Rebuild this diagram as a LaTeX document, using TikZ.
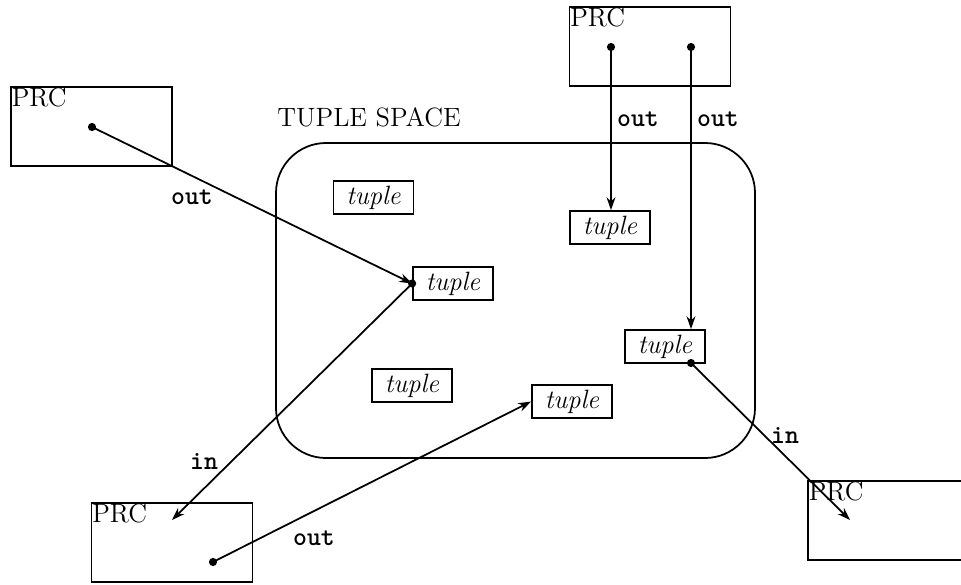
\documentclass[tikz,border=0pt]{standalone}
\usetikzlibrary{arrows.meta}
\newcommand{\bigfont}{\fontsize{11.3}{13.5}\selectfont}
\begin{document}
\begin{tikzpicture}[x=0.015cm,y=-0.015cm,
  every node/.style={font=\bigfont},
  prcbox/.style={draw,line width=0.75pt,minimum width=2.415cm,minimum height=1.185cm,inner sep=0pt},
  prclabel/.style={anchor=north west,inner sep=0.5pt},
  tuplebox/.style={draw,line width=0.75pt,minimum width=1.2cm,minimum height=0.495cm,inner sep=0pt,font=\bigfont\itshape},
  conn/.style={line width=0.75pt,-{Stealth[length=5.5pt,width=3.8pt]}},
  opl/.style={font=\bigfont\ttfamily\bfseries,inner sep=1pt},
  dotmark/.style={circle,fill,inner sep=0pt,minimum size=3.5pt}]
\useasboundingbox (0,0) rectangle (961,585);
\clip (0,0) rectangle (961,585);
\fill[white] (0,0) rectangle (961,585);
% tuple space
\node[draw,line width=0.75pt,rounded corners=0.75cm,minimum width=7.185cm,minimum height=4.725cm] (ts) at (515.5,300.5) {};
\node[anchor=south west,inner sep=0pt] (tslabel) at (277,128) {TUPLE SPACE};
% process boxes
\node[prcbox] (pL) at (91.5,126.5) {};
\node[prclabel] (pLl) at (pL.north west) {PRC};
\node[prcbox] (pT) at (650,46.5) {};
\node[prclabel] (pTl) at (pT.north west) {PRC};
\node[prcbox] (pB) at (172,542.5) {};
\node[prclabel] (pBl) at (pB.north west) {PRC};
\node[prcbox,minimum width=2.7cm] (pR) at (898,520.5) {};
\node[prclabel] (pRl) at (pR.north west) {PRC};
% tuples
\node[tuplebox] (t1) at (373.5,197.5) {tuple};
\node[tuplebox] (t2) at (453,283.5) {tuple};
\node[tuplebox] (t3) at (610,227.5) {tuple};
\node[tuplebox] (t4) at (665,346.5) {tuple};
\node[tuplebox] (t5) at (412,385.5) {tuple};
\node[tuplebox] (t6) at (572,401.5) {tuple};
% dots
\node[dotmark] (dL) at (92,127) {};
\node[dotmark] (dT1) at (611,47) {};
\node[dotmark] (dT2) at (691,47) {};
\node[dotmark] (dB) at (213,562) {};
\node[dotmark] (d2) at (t2.west) {};
\node[dotmark] (d4) at (691,363) {};
\coordinate (eB) at (172,520);
\coordinate (eR) at (850,520);
% connectors
\draw[conn] (dL.center) -- (t2.west);
\draw[conn] (dT1.center) -- (t3.north -| dT1);
\draw[conn] (dT2.center) -- (t4.north -| dT2);
\draw[conn] (d2.center) -- (eB);
\draw[conn] (dB.center) -- (t6.west);
\draw[conn] (d4.center) -- (eR);
% labels
\node[opl] (o1) at (192,197) {out};
\node[opl] (o2) at (638,119) {out};
\node[opl] (o3) at (718,119) {out};
\node[opl] (i1) at (204,461) {in};
\node[opl] (o4) at (314,538) {out};
\node[opl] (i2) at (785,435) {in};
\end{tikzpicture}
\end{document}
